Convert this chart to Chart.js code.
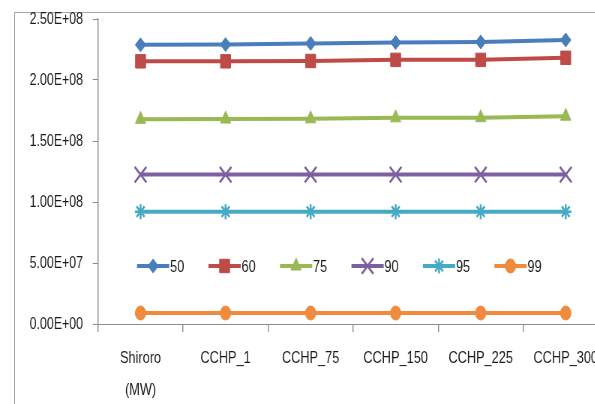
<!DOCTYPE html>
<html>
<head>
<meta charset="utf-8">
<script src="https://cdn.jsdelivr.net/npm/chart.js@4/dist/chart.umd.min.js"></script>
<style>
  html, body { margin: 0; padding: 0; background: #fff; }
  body { width: 595px; height: 404px; overflow: hidden; position: relative; }
  #frame { position: absolute; left: 14px; top: 12px; width: 700px; height: 500px;
           border-left: 1.5px solid #a6a6a6; border-top: 1.5px solid #a6a6a6; }
  /* the original picture is squeezed sideways, so the canvas is too */
  #wrap { position: absolute; left: 0; top: 0; width: 853px; height: 404px;
          transform: scaleX(0.75); transform-origin: 0 0; }
</style>
</head>
<body>
<div id="frame"></div>
<div id="wrap"><canvas id="myChart" width="853" height="404"></canvas></div>
<script>
var labels = [["Shiroro", "(MW)"], "CCHP_1", "CCHP_75", "CCHP_150", "CCHP_225", "CCHP_300"]
var seriesNames = ["50", "60", "75", "90", "95", "99"]
var s50 = [2.288e8, 2.29e8, 2.30e8, 2.307e8, 2.312e8, 2.328e8]
var s60 = [2.153e8, 2.153e8, 2.156e8, 2.165e8, 2.165e8, 2.182e8]
var s75 = [1.678e8, 1.68e8, 1.682e8, 1.69e8, 1.691e8, 1.703e8]
var s90 = [1.225e8, 1.225e8, 1.225e8, 1.225e8, 1.225e8, 1.225e8]
var s95 = [0.921e8, 0.921e8, 0.921e8, 0.921e8, 0.921e8, 0.921e8]
var s99 = [0.09e8, 0.09e8, 0.09e8, 0.09e8, 0.09e8, 0.09e8]
var yTicks = [0, 5e7, 1e8, 1.5e8, 2e8, 2.5e8]

var colors = ["#4a7ebb", "#be4b48", "#98b954", "#7d60a0", "#46aac5", "#f08a3c"]
var styles = ["rectRot", "rect", "triangle", "crossRot", "star", "circle"]
var radii = [7, 9.5, 8, 11, 7.5, 7]
var fontFam = "'Liberation Sans', Arial, sans-serif"

var allSeries = [s50, s60, s75, s90, s95, s99]
var datasets = allSeries.map(function (vals, i) {
  var thin = (styles[i] == "crossRot" || styles[i] == "star")
  return {
    label: seriesNames[i],
    data: vals,
    borderColor: colors[i],
    backgroundColor: colors[i],
    borderWidth: 4,
    pointStyle: styles[i],
    pointRadius: radii[i],
    pointBorderWidth: thin ? 2.5 : 1,
    pointBackgroundColor: colors[i],
    pointBorderColor: colors[i],
    tension: 0
  }
})

function sciLabel(v) {
  var parts = Number(v).toExponential(2).split("e")
  var sign = parts[1].charAt(0)
  var digits = parts[1].slice(1)
  if (digits.length < 2) digits = "0" + digits
  return parts[0] + "E" + sign + digits
}

// legend drawn inside the plot, like the original
var insideLegend = {
  id: "insideLegend",
  afterDatasetsDraw: function (chart) {
    var ctx = chart.ctx
    var area = chart.chartArea
    var y = area.bottom - 58
    ctx.save()
    chart.data.datasets.forEach(function (ds, i) {
      var x0 = area.left + 52 + i * 95.3
      ctx.strokeStyle = ds.borderColor
      ctx.fillStyle = ds.borderColor
      ctx.lineWidth = 4
      ctx.beginPath()
      ctx.moveTo(x0, y)
      ctx.lineTo(x0 + 43, y)
      ctx.stroke()
      ctx.lineWidth = ds.pointBorderWidth
      Chart.helpers.drawPoint(ctx, { pointStyle: ds.pointStyle, radius: ds.pointRadius, rotation: 0, borderWidth: ds.pointBorderWidth }, x0 + 21.5, y)
      ctx.fillStyle = "#1a1a1a"
      ctx.font = "17px " + fontFam
      ctx.textAlign = "left"
      ctx.textBaseline = "middle"
      ctx.fillText(ds.label, x0 + 44, y + 1)
    })
    ctx.restore()
  }
}

var ctx = document.getElementById("myChart").getContext("2d")
var chart = new Chart(ctx, {
  type: "line",
  data: { labels: labels, datasets: datasets },
  plugins: [insideLegend],
  options: {
    responsive: false,
    animation: false,
    layout: { autoPadding: false, padding: { left: 0, top: 19, right: 42, bottom: 0 } },
    plugins: { legend: { display: false }, tooltip: { enabled: false } },
    scales: {
      x: {
        offset: true,
        border: { color: "#8c8c8c", width: 1 },
        grid: { display: true, drawOnChartArea: false, drawTicks: true, tickLength: 8, lineWidth: 1.4, color: "#8c8c8c", offset: true },
        ticks: { color: "#1a1a1a", font: { family: fontFam, size: 17, lineHeight: 1.9 }, padding: 10, maxRotation: 0, autoSkip: false },
        afterFit: function (scale) { scale.height = 80 }
      },
      y: {
        min: 0,
        max: 2.5e8,
        border: { color: "#8c8c8c", width: 1.4 },
        grid: { display: true, drawOnChartArea: false, drawTicks: true, tickLength: 7, color: "#8c8c8c" },
        afterBuildTicks: function (scale) { scale.ticks = yTicks.map(function (v) { return { value: v } }) },
        ticks: { color: "#1a1a1a", font: { family: fontFam, size: 16.5 }, padding: 13, callback: function (v) { return sciLabel(v) } },
        afterFit: function (scale) {
          scale.width = 130.7
          scale.paddingTop = 0
          scale.paddingBottom = 0
        }
      }
    }
  }
})
</script>
</body>
</html>
